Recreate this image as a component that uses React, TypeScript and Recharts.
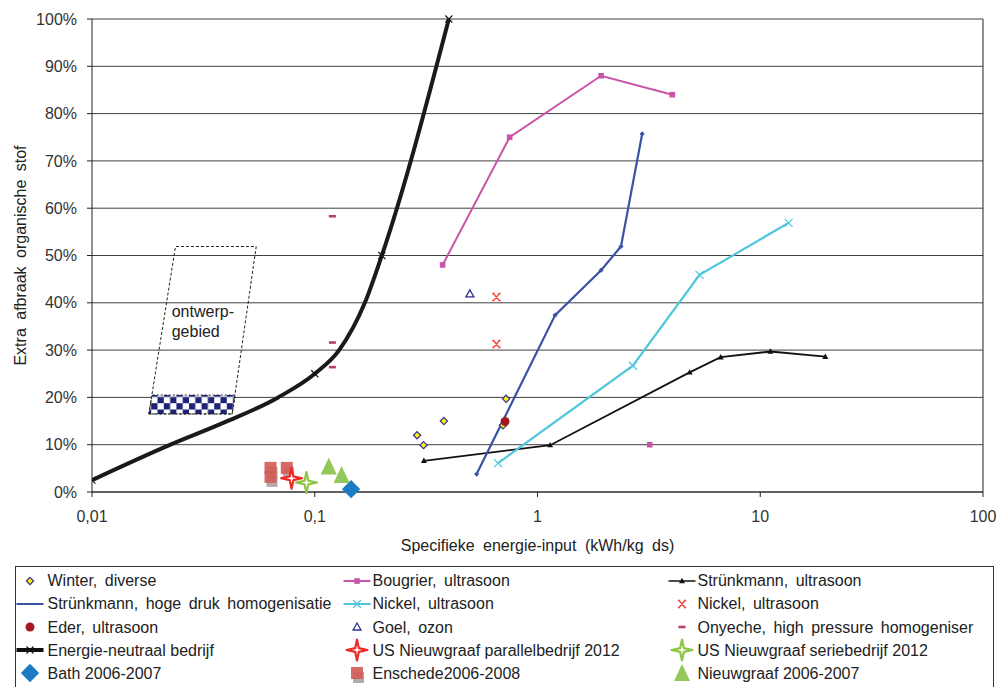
import React from 'react'
import {
  ComposedChart, Line, Scatter, XAxis, YAxis, CartesianGrid,
  ReferenceArea, ReferenceDot, ReferenceLine,
} from 'recharts'

// assen
const xTicks = [0.01, 0.1, 1, 10, 100]
const yTicks = [0, 10, 20, 30, 40, 50, 60, 70, 80, 90, 100]

// meetreeksen (x = kWh/kg ds, y = % extra afbraak)
const winter = [
  { x: 0.288, y: 12 }, { x: 0.308, y: 9.9 }, { x: 0.38, y: 15 },
  { x: 0.723, y: 19.7 }, { x: 0.7, y: 14.1 },
]
const bougrier = [
  { x: 0.375, y: 48 }, { x: 0.75, y: 75 }, { x: 1.93, y: 88 }, { x: 4.03, y: 84 },
]
const bougrierLos = [{ x: 3.19, y: 10 }]
const struenkmannUs = [
  { x: 0.309, y: 6.6 }, { x: 1.14, y: 9.9 }, { x: 4.82, y: 25.3 },
  { x: 6.64, y: 28.5 }, { x: 11.1, y: 29.7 }, { x: 19.6, y: 28.6 },
]
const struenkmannHd = [
  { x: 0.533, y: 3.8 }, { x: 1.2, y: 37.4 }, { x: 1.93, y: 46.9 },
  { x: 2.37, y: 51.9 }, { x: 2.95, y: 75.7 },
]
const nickelLijn = [
  { x: 0.665, y: 6.1 }, { x: 2.68, y: 26.7 }, { x: 5.34, y: 45.9 }, { x: 13.4, y: 56.9 },
]
const nickelPunt = [{ x: 0.654, y: 41.2 }, { x: 0.654, y: 31.3 }]
const eder = [{ x: 0.715, y: 14.9 }]
const goel = [{ x: 0.497, y: 41.9 }]
const onyeche = [{ x: 0.12, y: 58.3 }, { x: 0.12, y: 31.6 }, { x: 0.12, y: 26.4 }]
const energieNeutraal = [
  { x: 0.01, y: 2.5, m: true }, { x: 0.0225, y: 10 }, { x: 0.0388, y: 14.6 },
  { x: 0.0685, y: 20 }, { x: 0.1, y: 25, m: true }, { x: 0.1287, y: 30 },
  { x: 0.1678, y: 40 }, { x: 0.2, y: 50, m: true },
  { x: 0.4, y: 100, m: true },
]
const usParallel = [{ x: 0.0787, y: 2.9 }]
const usSerie = [{ x: 0.0918, y: 2.0 }]
const bath = [{ x: 0.1456, y: 0.6 }]
const enschede = [{ x: 0.0633, y: 5.1 }, { x: 0.0633, y: 3.2 }, { x: 0.0749, y: 5.1 }]
const nieuwgraaf = [{ x: 0.1156, y: 5.4 }, { x: 0.132, y: 3.6 }]

// ontwerpgebied (scheve rechthoek + geblokte band onderin)
const ontwerpRand = [
  { x: 0.018, y: 16.5 }, { x: 0.0237, y: 51.9 }, { x: 0.0546, y: 51.9 },
  { x: 0.0426, y: 16.5 }, { x: 0.018, y: 16.5 },
]
const ontwerpBand = { x1: 0.018, x2: 0.0426, y1: 16.5, y2: 20.5 }
const ontwerpTekst = { x: 0.0228, y: 36 }

type Mark = (cx: number, cy: number) => React.ReactElement

const diamond = (cx: number, cy: number, r: number) =>
  `${cx},${cy - r} ${cx + r},${cy} ${cx},${cy + r} ${cx - r},${cy}`

const star4 = (cx: number, cy: number, r: number, ri: number) => {
  const pts: string[] = []
  for (let i = 0; i < 8; i++) {
    const a = (i * Math.PI) / 4 - Math.PI / 2
    const rr = i % 2 === 0 ? r : ri
    pts.push(`${cx + rr * Math.cos(a)},${cy + rr * Math.sin(a)}`)
  }
  return pts.join(' ')
}

// markers
const mWinter: Mark = (cx, cy) => <polygon points={diamond(cx, cy, 3.6)} fill="#fff200" stroke="#2e3192" strokeWidth={1.2} />
const mBougrier: Mark = (cx, cy) => <rect x={cx - 2.8} y={cy - 2.8} width={5.6} height={5.6} fill="#c955a8" />
const mStrUs: Mark = (cx, cy) => <polygon points={`${cx},${cy - 3.2} ${cx + 3},${cy + 2.2} ${cx - 3},${cy + 2.2}`} fill="#111" />
const mStrHd: Mark = (cx, cy) => <polygon points={diamond(cx, cy, 2.6)} fill="#3a53a4" />
const mNickelLijn: Mark = (cx, cy) => (
  <path d={`M${cx - 4},${cy - 4}L${cx + 4},${cy + 4}M${cx + 4},${cy - 4}L${cx - 4},${cy + 4}`} stroke="#4fc6dc" strokeWidth={1.3} fill="none" />
)
const mNickelPunt: Mark = (cx, cy) => (
  <path
    d={`M${cx - 3},${cy - 3.5}L${cx + 3},${cy + 3.5}M${cx + 3},${cy - 3.5}L${cx - 3},${cy + 3.5}` +
      `M${cx - 4.2},${cy - 3.5}H${cx - 1.8}M${cx + 1.8},${cy - 3.5}H${cx + 4.2}` +
      `M${cx - 4.2},${cy + 3.5}H${cx - 1.8}M${cx + 1.8},${cy + 3.5}H${cx + 4.2}`}
    stroke="#f0473f" strokeWidth={1.5} fill="none"
  />
)
const mEder: Mark = (cx, cy) => <circle cx={cx} cy={cy} r={4.5} fill="#a3191f" />
const mGoel: Mark = (cx, cy) => <polygon points={`${cx},${cy - 4} ${cx + 4},${cy + 3} ${cx - 4},${cy + 3}`} fill="#fff" stroke="#2e3192" strokeWidth={1.3} />
const mOnyeche: Mark = (cx, cy) => <rect x={cx - 3.5} y={cy - 1.3} width={7} height={2.6} fill="#b5406f" />
const mEnergie: Mark = (cx, cy) => (
  <path d={`M${cx - 3.5},${cy - 3.5}L${cx + 3.5},${cy + 3.5}M${cx + 3.5},${cy - 3.5}L${cx - 3.5},${cy + 3.5}`} stroke="#111" strokeWidth={1.1} fill="none" />
)
const mUsParallel: Mark = (cx, cy) => <polygon points={star4(cx, cy, 10.5, 2.6)} fill="#fff" stroke="#ee2a24" strokeWidth={2.2} strokeLinejoin="round" />
const mUsSerie: Mark = (cx, cy) => <polygon points={star4(cx, cy, 10.5, 2.6)} fill="#fff" stroke="#8dc63f" strokeWidth={2.2} strokeLinejoin="round" />
const mBath: Mark = (cx, cy) => <polygon points={diamond(cx, cy, 9.2)} fill="#1b7bc4" />
const mEnschede: Mark = (cx, cy) => (
  <g>
    <rect x={cx - 4} y={cy - 1} width={11} height={11} fill="#9a8f8f" opacity={0.75} />
    <rect x={cx - 6} y={cy - 6} width={12} height={12} fill="#d35d57" opacity={0.92} />
  </g>
)
const mNieuwgraaf: Mark = (cx, cy) => <polygon points={`${cx},${cy - 9} ${cx + 8},${cy + 8} ${cx - 8},${cy + 8}`} fill="#92c95a" />

const dotOf = (m: Mark) => (p: any) => (
  <g key={`d-${p.index}`}>{p.cx == null || p.cy == null ? null : m(p.cx, p.cy)}</g>
)
const markedDotOf = (m: Mark) => (p: any) => (
  <g key={`d-${p.index}`}>{p.cx == null || p.cy == null || !p.payload?.m ? null : m(p.cx, p.cy)}</g>
)
const shapeOf = (m: Mark) => (p: any) => m(p.cx, p.cy)

// legenda (3 kolommen, rij voor rij)
const legendItems: { name: string; mark?: Mark; line?: string; lw?: number; wide?: boolean }[] = [
  { name: 'Winter, diverse', mark: mWinter, wide: true },
  { name: 'Bougrier, ultrasoon', mark: mBougrier, line: '#c955a8', lw: 2, wide: true },
  { name: 'Strünkmann, ultrasoon', mark: mStrUs, line: '#111', lw: 1.5, wide: true },
  { name: 'Strünkmann, hoge druk homogenisatie', line: '#3a53a4', lw: 2, wide: true },
  { name: 'Nickel, ultrasoon', mark: mNickelLijn, line: '#4fc6dc', lw: 2, wide: true },
  { name: 'Nickel, ultrasoon', mark: mNickelPunt, wide: true },
  { name: 'Eder, ultrasoon', mark: mEder, wide: true },
  { name: 'Goel, ozon', mark: mGoel, wide: true },
  { name: 'Onyeche, high pressure homogeniser', mark: mOnyeche, wide: true },
  { name: 'Energie-neutraal bedrijf', mark: mEnergie, line: '#111', lw: 4 },
  { name: 'US Nieuwgraaf parallelbedrijf 2012', mark: mUsParallel },
  { name: 'US Nieuwgraaf seriebedrijf 2012', mark: mUsSerie },
  { name: 'Bath 2006-2007', mark: mBath },
  { name: 'Enschede2006-2008', mark: mEnschede },
  { name: 'Nieuwgraaf 2006-2007', mark: mNieuwgraaf },
]
const legendIconX = [29.5, 357, 682]
const legendTextX = [47.5, 372.5, 697.5]

const bandShape = (p: any) => {
  const s = p.height * 0.16
  return (
    <polygon
      points={`${p.x},${p.y + p.height} ${p.x + s},${p.y} ${p.x + p.width + s},${p.y} ${p.x + p.width},${p.y + p.height}`}
      fill="url(#ruit)" stroke="#222" strokeDasharray="2 2" strokeWidth={1}
    />
  )
}

const tekstShape = (p: any) => (
  <text x={p.cx} y={p.cy} fill="#222" fontSize={16}>
    <tspan x={p.cx} dy={-5}>ontwerp-</tspan>
    <tspan x={p.cx} dy={20}>gebied</tspan>
  </text>
)

function Legenda() {
  return (
    <>
      <div style={{ position: 'absolute', left: 15, top: 566, width: 979, height: 140, border: '1px solid #333', boxSizing: 'border-box' }} />
      {legendItems.map((it, i) => {
        const col = i % 3
        const row = Math.floor(i / 3)
        const cy = 580.7 + 23.15 * row
        return (
          <React.Fragment key={i}>
            <svg style={{ position: 'absolute', left: legendIconX[col] - 15, top: cy - 12, overflow: 'visible' }} width={30} height={24}>
              {it.line && <line x1={1.5} x2={28.5} y1={12} y2={12} stroke={it.line} strokeWidth={it.lw} />}
              {it.mark && it.mark(15, 12)}
            </svg>
            <div
              style={{
                position: 'absolute', left: legendTextX[col], top: cy - 11.5, lineHeight: '23px',
                fontSize: 16, color: '#222', whiteSpace: 'pre', wordSpacing: it.wide ? '3px' : undefined,
              }}
            >
              {it.name}
            </div>
          </React.Fragment>
        )
      })}
    </>
  )
}

export default function App() {
  return (
    <div style={{ position: 'relative', width: 1000, height: 687, overflow: 'hidden', background: '#fff', fontFamily: '"Liberation Sans", Arial, sans-serif' }}>
      <style>{'body{margin:0}'}</style>
      <ComposedChart width={1000} height={560} margin={{ top: 19, right: 17, bottom: 8, left: 0 }}>
        <defs>
          <pattern id="ruit" width={12.6} height={12.6} patternUnits="userSpaceOnUse">
            <rect width={12.6} height={12.6} fill="#fff" />
            <rect width={6.3} height={6.3} fill="#1e2378" />
            <rect x={6.3} y={6.3} width={6.3} height={6.3} fill="#1e2378" />
          </pattern>
        </defs>
        <CartesianGrid vertical={false} stroke="#404040" />
        <XAxis
          type="number" dataKey="x" scale="log" domain={[0.01, 100]} ticks={xTicks} interval={0}
          allowDataOverflow height={60}
          tickFormatter={(v: number) => String(v).replace('.', ',')}
          tick={{ fill: '#333', fontSize: 16 }} tickSize={5} tickMargin={14}
          axisLine={{ stroke: '#222' }} tickLine={{ stroke: '#222' }}
          label={{ value: 'Specifieke energie-input (kWh/kg ds)', position: 'insideBottom', offset: 1, fill: '#222', fontSize: 16, style: { wordSpacing: '4px' } }}
        />
        <YAxis
          type="number" dataKey="y" domain={[0, 100]} ticks={yTicks} interval={0} width={92}
          tickFormatter={(v: number) => `${v}%`}
          tick={{ fill: '#333', fontSize: 16 }} tickSize={5} tickMargin={10}
          axisLine={{ stroke: '#222' }} tickLine={{ stroke: '#222' }}
          label={{ value: 'Extra afbraak organische stof', angle: -90, position: 'insideLeft', offset: 20, fill: '#222', fontSize: 16, style: { textAnchor: 'middle', wordSpacing: '4px' } }}
        />
        <ReferenceLine x={100} stroke="#222" />

        <ReferenceArea {...ontwerpBand} shape={bandShape} />
        <Line data={ontwerpRand} dataKey="y" type="linear" stroke="#222" strokeWidth={1} strokeDasharray="3 2" dot={false} activeDot={false} isAnimationActive={false} />
        <ReferenceDot x={ontwerpTekst.x} y={ontwerpTekst.y} r={0} shape={tekstShape} />

        <Line data={bougrier} dataKey="y" type="linear" stroke="#c955a8" strokeWidth={2} dot={dotOf(mBougrier)} activeDot={false} isAnimationActive={false} />
        <Line data={struenkmannUs} dataKey="y" type="linear" stroke="#111" strokeWidth={1.8} dot={dotOf(mStrUs)} activeDot={false} isAnimationActive={false} />
        <Line data={struenkmannHd} dataKey="y" type="linear" stroke="#3a53a4" strokeWidth={2.2} dot={dotOf(mStrHd)} activeDot={false} isAnimationActive={false} />
        <Line data={nickelLijn} dataKey="y" type="linear" stroke="#4fc6dc" strokeWidth={2.2} dot={dotOf(mNickelLijn)} activeDot={false} isAnimationActive={false} />
        <Line data={energieNeutraal} dataKey="y" type="monotone" stroke="#1a1a1a" strokeWidth={4} dot={markedDotOf(mEnergie)} activeDot={false} isAnimationActive={false} />

        <Scatter data={winter} dataKey="y" shape={shapeOf(mWinter)} isAnimationActive={false} />
        <Scatter data={eder} dataKey="y" shape={shapeOf(mEder)} isAnimationActive={false} />
        <Scatter data={nickelPunt} dataKey="y" shape={shapeOf(mNickelPunt)} isAnimationActive={false} />
        <Scatter data={goel} dataKey="y" shape={shapeOf(mGoel)} isAnimationActive={false} />
        <Scatter data={onyeche} dataKey="y" shape={shapeOf(mOnyeche)} isAnimationActive={false} />
        <Scatter data={bougrierLos} dataKey="y" shape={shapeOf(mBougrier)} isAnimationActive={false} />
        <Scatter data={enschede} dataKey="y" shape={shapeOf(mEnschede)} isAnimationActive={false} />
        <Scatter data={usParallel} dataKey="y" shape={shapeOf(mUsParallel)} isAnimationActive={false} />
        <Scatter data={usSerie} dataKey="y" shape={shapeOf(mUsSerie)} isAnimationActive={false} />
        <Scatter data={nieuwgraaf} dataKey="y" shape={shapeOf(mNieuwgraaf)} isAnimationActive={false} />
        <Scatter data={bath} dataKey="y" shape={shapeOf(mBath)} isAnimationActive={false} />
      </ComposedChart>
      <Legenda />
    </div>
  )
}
